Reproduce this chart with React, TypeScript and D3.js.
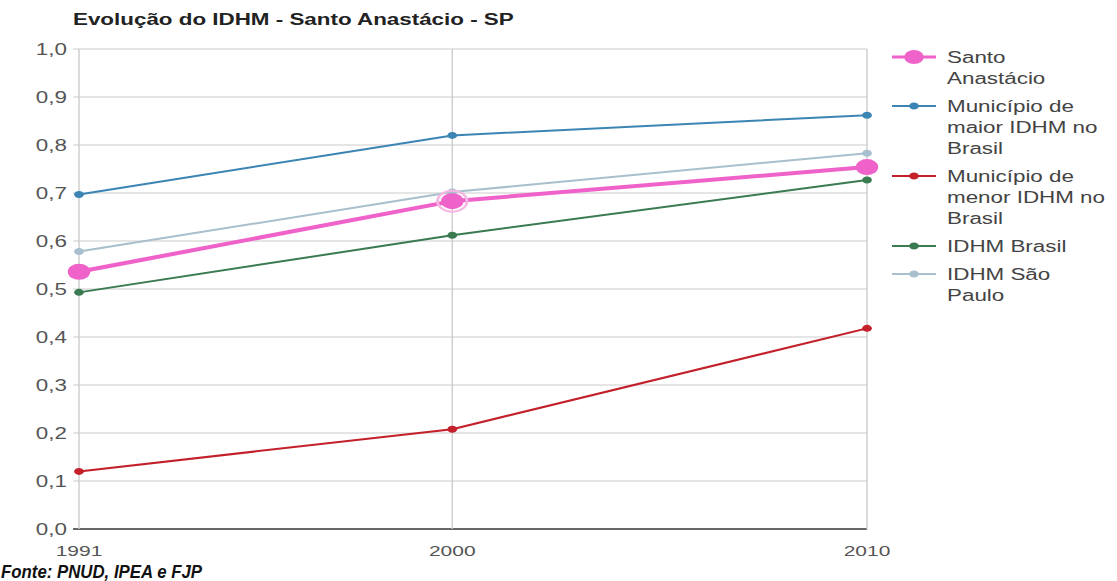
import React from 'react';
import * as d3 from 'd3';

const years = [1991, 2000, 2010];
const santoAnastacio = [0.536, 0.683, 0.754];
const maiorIdhm = [0.697, 0.820, 0.862];
const menorIdhm = [0.120, 0.208, 0.418];
const idhmBrasil = [0.493, 0.612, 0.727];
const idhmSaoPaulo = [0.578, 0.702, 0.783];
const yTicks = [0, 0.1, 0.2, 0.3, 0.4, 0.5, 0.6, 0.7, 0.8, 0.9, 1.0];

interface Serie {
  name: string[];
  values: number[];
  color: string;
  width: number;
  r: number;
}

const series: Serie[] = [
  { name: ['Santo', 'Anastácio'], values: santoAnastacio, color: '#ef62c9', width: 4, r: 8 },
  { name: ['Município de', 'maior IDHM no', 'Brasil'], values: maiorIdhm, color: '#3b85b5', width: 2, r: 3.5 },
  { name: ['Município de', 'menor IDHM no', 'Brasil'], values: menorIdhm, color: '#c3202b', width: 2, r: 3.5 },
  { name: ['IDHM Brasil'], values: idhmBrasil, color: '#3b7b52', width: 2, r: 3.5 },
  { name: ['IDHM São', 'Paulo'], values: idhmSaoPaulo, color: '#a8bfcd', width: 2, r: 3.5 },
];

// the picture is stretched horizontally, so draw in a narrower space
const K = 1.4;
const W = 1117;
const H = 581;
const IW = W / K;

const App: React.FC = () => {
  const x = d3.scaleLinear().domain([1991, 2010]).range([79 / K, 867 / K]);
  const y = d3.scaleLinear().domain([0, 1]).range([529, 49]);
  const gridLeft = 73 / K;

  const line = d3.line<number>()
    .x((_, i) => x(years[i]))
    .y(d => y(d));

  const fontFamily = 'Arial, "Liberation Sans", sans-serif';

  // legend rows
  let cy = 57;
  const legendRows = series.map(s => {
    const row = { s, y: cy };
    cy += s.name.length * 21 + 7;
    return row;
  });

  const drawOrder = [4, 3, 2, 1, 0];

  return (
    <div style={{ position: 'absolute', left: 0, top: 0 }}>
      <svg width={W} height={H} style={{ display: 'block', background: 'white' }}>
        <svg x={0} y={0} width={W} height={H} viewBox={`0 0 ${IW} ${H}`} preserveAspectRatio="none">
          <text x={73 / K} y={25} fontFamily={fontFamily} fontWeight="bold" fontSize={16} fill="#222">
            Evolução do IDHM - Santo Anastácio - SP
          </text>

          {/* horizontal grid */}
          {yTicks.map(t => (
            <line key={t} x1={gridLeft} x2={x(2010)} y1={y(t)} y2={y(t)}
              stroke={t === 0 ? '#333' : '#cccccc'} strokeWidth={t === 0 ? 1.5 : 1} />
          ))}
          {/* vertical grid */}
          {years.map(yr => (
            <line key={yr} x1={x(yr)} x2={x(yr)} y1={y(1)} y2={y(0)} stroke="#cccccc" strokeWidth={1} />
          ))}

          {yTicks.map(t => (
            <text key={t} x={67 / K} y={y(t)} dy="0.35em" textAnchor="end"
              fontFamily={fontFamily} fontSize={16} fill="#555">
              {d3.format('.1f')(t).replace('.', ',')}
            </text>
          ))}
          {years.map(yr => (
            <text key={yr} x={x(yr)} y={556} textAnchor="middle"
              fontFamily={fontFamily} fontSize={15} fill="#555">
              {yr}
            </text>
          ))}

          {drawOrder.map(i => {
            const s = series[i];
            return (
              <g key={i}>
                <path d={line(s.values) || ''} fill="none" stroke={s.color} strokeWidth={s.width} />
                {s.values.map((v, j) => (
                  <circle key={j} cx={x(years[j])} cy={y(v)} r={s.r} fill={s.color} />
                ))}
              </g>
            );
          })}
          {/* highlighted point */}
          <circle cx={x(2000)} cy={y(santoAnastacio[1])} r={10.5} fill="none"
            stroke="#f6b6e4" strokeWidth={2} />

          {legendRows.map(({ s, y: ly }, i) => (
            <g key={i}>
              <line x1={892 / K} x2={936 / K} y1={ly} y2={ly} stroke={s.color}
                strokeWidth={i === 0 ? 3 : 2} />
              <circle cx={914 / K} cy={ly} r={i === 0 ? 7 : 3.5} fill={s.color} />
              {s.name.map((n, k) => (
                <text key={k} x={947 / K} y={ly + k * 21} dy="0.35em"
                  fontFamily={fontFamily} fontSize={16} fill="#444">
                  {n}
                </text>
              ))}
            </g>
          ))}
        </svg>
        <text x={1} y={578} fontFamily={fontFamily} fontWeight="bold" fontStyle="italic"
          fontSize={18} fill="#111" textLength={201} lengthAdjust="spacingAndGlyphs">
          Fonte: PNUD, IPEA e FJP
        </text>
      </svg>
    </div>
  );
};

export default App;
